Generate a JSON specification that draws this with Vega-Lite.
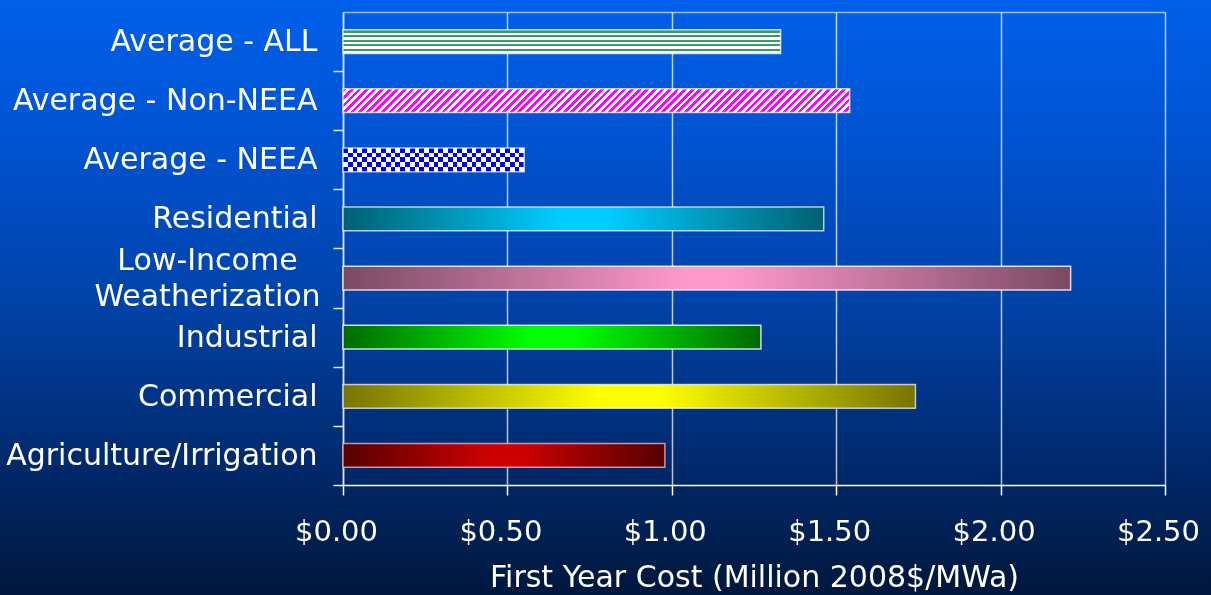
{
"$schema":"https://vega.github.io/schema/vega-lite/v6.json",
"width":1211,"height":595,"autosize":{"type":"none"},"padding":0,
"background":"#00173d",
"config":{
 "view":{"stroke":null,"fill":{"gradient":"linear","x1":0,"y1":0,"x2":0,"y2":1,"stops":[{"offset":0,"color":"#0060ea"},{"offset":0.25,"color":"#0052cf"},{"offset":0.5,"color":"#0043aa"},{"offset":0.75,"color":"#002c72"},{"offset":1,"color":"#00173d"}]}},
 "font":"DejaVu Sans"
},
"data":{"values":[
 {"category":"Average - ALL","cost":1.331},
 {"category":"Average - Non-NEEA","cost":1.541},
 {"category":"Average - NEEA","cost":0.551},
 {"category":"Residential","cost":1.462},
 {"category":"Low-Income Weatherization","cost":2.213},
 {"category":"Industrial","cost":1.271},
 {"category":"Commercial","cost":1.741},
 {"category":"Agriculture/Irrigation","cost":0.979}
]},
"encoding":{
 "y":{"field":"category","type":"nominal",
  "sort":["Average - ALL","Average - Non-NEEA","Average - NEEA","Residential","Low-Income Weatherization","Industrial","Commercial","Agriculture/Irrigation"],
  "scale":{"range":[12,485],"paddingInner":0.6,"paddingOuter":0.3},
  "axis":{"orient":"left","offset":-343,"title":null,"domainColor":"#e0e8f8","domainWidth":1.5,"tickColor":"#e0e8f8","tickWidth":1.5,"tickSize":10,"tickBand":"center","tickOffset":29.5625,
   "labelOffset":{"condition":{"test":"datum.value === 'Low-Income Weatherization'","value":-47},"value":-29.5625},
   "labelAlign":{"condition":{"test":"datum.value === 'Low-Income Weatherization'","value":"center"},"value":"right"},
   "labelPadding":{"condition":{"test":"datum.value === 'Low-Income Weatherization'","value":126},"value":16},
   "labelColor":"#ffffff","labelFont":"DejaVu Sans","labelFontSize":30,"labelLimit":500,"labelLineHeight":36,
   "labelExpr":"datum.value === 'Low-Income Weatherization' ? ['Low-Income', 'Weatherization'] : datum.value"}},
 "x":{"field":"cost","type":"quantitative","scale":{"domain":[0,2.5],"range":[343,1165]},"axis":null}
},
"resolve":{"axis":{"x":"independent"}},
"layer":[
 {"transform":[{"filter":"datum.category === 'Average - ALL'"}],
  "mark":{"type":"bar","stroke":"#ffffff","strokeOpacity":0.7,"strokeWidth":1.5,
   "fill":{"gradient":"linear","x1":0,"y1":0,"x2":0,"y2":1,"stops":[{"offset":0,"color":"#fff"},{"offset":0.03,"color":"#fff"},{"offset":0.03,"color":"#3a9a6a"},{"offset":0.12,"color":"#3a9a6a"},{"offset":0.12,"color":"#fff"},{"offset":0.22,"color":"#fff"},{"offset":0.22,"color":"#3a9a6a"},{"offset":0.31,"color":"#3a9a6a"},{"offset":0.31,"color":"#fff"},{"offset":0.415,"color":"#fff"},{"offset":0.415,"color":"#3a9a6a"},{"offset":0.505,"color":"#3a9a6a"},{"offset":0.505,"color":"#fff"},{"offset":0.61,"color":"#fff"},{"offset":0.61,"color":"#3a9a6a"},{"offset":0.7,"color":"#3a9a6a"},{"offset":0.7,"color":"#fff"},{"offset":0.805,"color":"#fff"},{"offset":0.805,"color":"#3a9a6a"},{"offset":0.895,"color":"#3a9a6a"},{"offset":0.895,"color":"#fff"},{"offset":1,"color":"#fff"}]}},
  "encoding":{"x":{"field":"cost","type":"quantitative","scale":{"domain":[0,2.5],"range":[343,1165]},
   "axis":{"orient":"bottom","offset":-110,"grid":false,"domainColor":"#ffffff","domainWidth":1.5,"tickColor":"#ffffff","tickWidth":1.5,"tickSize":10,"labelColor":"#ffffff","labelFont":"DejaVu Sans","labelFontSize":29,"labelPadding":22,"labelFlush":false,"labelOverlap":false,"labelOffset":-7,"format":"$.2f","values":[0,0.5,1,1.5,2,2.5],"title":"First Year Cost (Million 2008$/MWa)","titleColor":"#ffffff","titleFont":"DejaVu Sans","titleFontSize":30,"titleFontWeight":"normal","titlePadding":16}}}},
 {"transform":[{"filter":"datum.category === 'Average - Non-NEEA'"}],
  "mark":{"type":"bar","stroke":"#ffffff","strokeOpacity":0.7,"strokeWidth":1.5,
   "fill":{"gradient":"linear","x1":0,"y1":0,"x2":1.0444,"y2":0.0487,"stops":[
{"offset":0,"color":"#f0f"},
{"offset":0.00714,"color":"#f0f"},{"offset":0.00714,"color":"#fff"},{"offset":0.01429,"color":"#fff"},{"offset":0.01429,"color":"#f0f"},
{"offset":0.02143,"color":"#f0f"},{"offset":0.02143,"color":"#fff"},{"offset":0.02857,"color":"#fff"},{"offset":0.02857,"color":"#f0f"},
{"offset":0.03571,"color":"#f0f"},{"offset":0.03571,"color":"#fff"},{"offset":0.04286,"color":"#fff"},{"offset":0.04286,"color":"#f0f"},
{"offset":0.05,"color":"#f0f"},{"offset":0.05,"color":"#fff"},{"offset":0.05714,"color":"#fff"},{"offset":0.05714,"color":"#f0f"},
{"offset":0.06429,"color":"#f0f"},{"offset":0.06429,"color":"#fff"},{"offset":0.07143,"color":"#fff"},{"offset":0.07143,"color":"#f0f"},
{"offset":0.07857,"color":"#f0f"},{"offset":0.07857,"color":"#fff"},{"offset":0.08571,"color":"#fff"},{"offset":0.08571,"color":"#f0f"},
{"offset":0.09286,"color":"#f0f"},{"offset":0.09286,"color":"#fff"},{"offset":0.1,"color":"#fff"},{"offset":0.1,"color":"#f0f"},
{"offset":0.10714,"color":"#f0f"},{"offset":0.10714,"color":"#fff"},{"offset":0.11429,"color":"#fff"},{"offset":0.11429,"color":"#f0f"},
{"offset":0.12143,"color":"#f0f"},{"offset":0.12143,"color":"#fff"},{"offset":0.12857,"color":"#fff"},{"offset":0.12857,"color":"#f0f"},
{"offset":0.13571,"color":"#f0f"},{"offset":0.13571,"color":"#fff"},{"offset":0.14286,"color":"#fff"},{"offset":0.14286,"color":"#f0f"},
{"offset":0.15,"color":"#f0f"},{"offset":0.15,"color":"#fff"},{"offset":0.15714,"color":"#fff"},{"offset":0.15714,"color":"#f0f"},
{"offset":0.16429,"color":"#f0f"},{"offset":0.16429,"color":"#fff"},{"offset":0.17143,"color":"#fff"},{"offset":0.17143,"color":"#f0f"},
{"offset":0.17857,"color":"#f0f"},{"offset":0.17857,"color":"#fff"},{"offset":0.18571,"color":"#fff"},{"offset":0.18571,"color":"#f0f"},
{"offset":0.19286,"color":"#f0f"},{"offset":0.19286,"color":"#fff"},{"offset":0.2,"color":"#fff"},{"offset":0.2,"color":"#f0f"},
{"offset":0.20714,"color":"#f0f"},{"offset":0.20714,"color":"#fff"},{"offset":0.21429,"color":"#fff"},{"offset":0.21429,"color":"#f0f"},
{"offset":0.22143,"color":"#f0f"},{"offset":0.22143,"color":"#fff"},{"offset":0.22857,"color":"#fff"},{"offset":0.22857,"color":"#f0f"},
{"offset":0.23571,"color":"#f0f"},{"offset":0.23571,"color":"#fff"},{"offset":0.24286,"color":"#fff"},{"offset":0.24286,"color":"#f0f"},
{"offset":0.25,"color":"#f0f"},{"offset":0.25,"color":"#fff"},{"offset":0.25714,"color":"#fff"},{"offset":0.25714,"color":"#f0f"},
{"offset":0.26429,"color":"#f0f"},{"offset":0.26429,"color":"#fff"},{"offset":0.27143,"color":"#fff"},{"offset":0.27143,"color":"#f0f"},
{"offset":0.27857,"color":"#f0f"},{"offset":0.27857,"color":"#fff"},{"offset":0.28571,"color":"#fff"},{"offset":0.28571,"color":"#f0f"},
{"offset":0.29286,"color":"#f0f"},{"offset":0.29286,"color":"#fff"},{"offset":0.3,"color":"#fff"},{"offset":0.3,"color":"#f0f"},
{"offset":0.30714,"color":"#f0f"},{"offset":0.30714,"color":"#fff"},{"offset":0.31429,"color":"#fff"},{"offset":0.31429,"color":"#f0f"},
{"offset":0.32143,"color":"#f0f"},{"offset":0.32143,"color":"#fff"},{"offset":0.32857,"color":"#fff"},{"offset":0.32857,"color":"#f0f"},
{"offset":0.33571,"color":"#f0f"},{"offset":0.33571,"color":"#fff"},{"offset":0.34286,"color":"#fff"},{"offset":0.34286,"color":"#f0f"},
{"offset":0.35,"color":"#f0f"},{"offset":0.35,"color":"#fff"},{"offset":0.35714,"color":"#fff"},{"offset":0.35714,"color":"#f0f"},
{"offset":0.36429,"color":"#f0f"},{"offset":0.36429,"color":"#fff"},{"offset":0.37143,"color":"#fff"},{"offset":0.37143,"color":"#f0f"},
{"offset":0.37857,"color":"#f0f"},{"offset":0.37857,"color":"#fff"},{"offset":0.38571,"color":"#fff"},{"offset":0.38571,"color":"#f0f"},
{"offset":0.39286,"color":"#f0f"},{"offset":0.39286,"color":"#fff"},{"offset":0.4,"color":"#fff"},{"offset":0.4,"color":"#f0f"},
{"offset":0.40714,"color":"#f0f"},{"offset":0.40714,"color":"#fff"},{"offset":0.41429,"color":"#fff"},{"offset":0.41429,"color":"#f0f"},
{"offset":0.42143,"color":"#f0f"},{"offset":0.42143,"color":"#fff"},{"offset":0.42857,"color":"#fff"},{"offset":0.42857,"color":"#f0f"},
{"offset":0.43571,"color":"#f0f"},{"offset":0.43571,"color":"#fff"},{"offset":0.44286,"color":"#fff"},{"offset":0.44286,"color":"#f0f"},
{"offset":0.45,"color":"#f0f"},{"offset":0.45,"color":"#fff"},{"offset":0.45714,"color":"#fff"},{"offset":0.45714,"color":"#f0f"},
{"offset":0.46429,"color":"#f0f"},{"offset":0.46429,"color":"#fff"},{"offset":0.47143,"color":"#fff"},{"offset":0.47143,"color":"#f0f"},
{"offset":0.47857,"color":"#f0f"},{"offset":0.47857,"color":"#fff"},{"offset":0.48571,"color":"#fff"},{"offset":0.48571,"color":"#f0f"},
{"offset":0.49286,"color":"#f0f"},{"offset":0.49286,"color":"#fff"},{"offset":0.5,"color":"#fff"},{"offset":0.5,"color":"#f0f"},
{"offset":0.50714,"color":"#f0f"},{"offset":0.50714,"color":"#fff"},{"offset":0.51429,"color":"#fff"},{"offset":0.51429,"color":"#f0f"},
{"offset":0.52143,"color":"#f0f"},{"offset":0.52143,"color":"#fff"},{"offset":0.52857,"color":"#fff"},{"offset":0.52857,"color":"#f0f"},
{"offset":0.53571,"color":"#f0f"},{"offset":0.53571,"color":"#fff"},{"offset":0.54286,"color":"#fff"},{"offset":0.54286,"color":"#f0f"},
{"offset":0.55,"color":"#f0f"},{"offset":0.55,"color":"#fff"},{"offset":0.55714,"color":"#fff"},{"offset":0.55714,"color":"#f0f"},
{"offset":0.56429,"color":"#f0f"},{"offset":0.56429,"color":"#fff"},{"offset":0.57143,"color":"#fff"},{"offset":0.57143,"color":"#f0f"},
{"offset":0.57857,"color":"#f0f"},{"offset":0.57857,"color":"#fff"},{"offset":0.58571,"color":"#fff"},{"offset":0.58571,"color":"#f0f"},
{"offset":0.59286,"color":"#f0f"},{"offset":0.59286,"color":"#fff"},{"offset":0.6,"color":"#fff"},{"offset":0.6,"color":"#f0f"},
{"offset":0.60714,"color":"#f0f"},{"offset":0.60714,"color":"#fff"},{"offset":0.61429,"color":"#fff"},{"offset":0.61429,"color":"#f0f"},
{"offset":0.62143,"color":"#f0f"},{"offset":0.62143,"color":"#fff"},{"offset":0.62857,"color":"#fff"},{"offset":0.62857,"color":"#f0f"},
{"offset":0.63571,"color":"#f0f"},{"offset":0.63571,"color":"#fff"},{"offset":0.64286,"color":"#fff"},{"offset":0.64286,"color":"#f0f"},
{"offset":0.65,"color":"#f0f"},{"offset":0.65,"color":"#fff"},{"offset":0.65714,"color":"#fff"},{"offset":0.65714,"color":"#f0f"},
{"offset":0.66429,"color":"#f0f"},{"offset":0.66429,"color":"#fff"},{"offset":0.67143,"color":"#fff"},{"offset":0.67143,"color":"#f0f"},
{"offset":0.67857,"color":"#f0f"},{"offset":0.67857,"color":"#fff"},{"offset":0.68571,"color":"#fff"},{"offset":0.68571,"color":"#f0f"},
{"offset":0.69286,"color":"#f0f"},{"offset":0.69286,"color":"#fff"},{"offset":0.7,"color":"#fff"},{"offset":0.7,"color":"#f0f"},
{"offset":0.70714,"color":"#f0f"},{"offset":0.70714,"color":"#fff"},{"offset":0.71429,"color":"#fff"},{"offset":0.71429,"color":"#f0f"},
{"offset":0.72143,"color":"#f0f"},{"offset":0.72143,"color":"#fff"},{"offset":0.72857,"color":"#fff"},{"offset":0.72857,"color":"#f0f"},
{"offset":0.73571,"color":"#f0f"},{"offset":0.73571,"color":"#fff"},{"offset":0.74286,"color":"#fff"},{"offset":0.74286,"color":"#f0f"},
{"offset":0.75,"color":"#f0f"},{"offset":0.75,"color":"#fff"},{"offset":0.75714,"color":"#fff"},{"offset":0.75714,"color":"#f0f"},
{"offset":0.76429,"color":"#f0f"},{"offset":0.76429,"color":"#fff"},{"offset":0.77143,"color":"#fff"},{"offset":0.77143,"color":"#f0f"},
{"offset":0.77857,"color":"#f0f"},{"offset":0.77857,"color":"#fff"},{"offset":0.78571,"color":"#fff"},{"offset":0.78571,"color":"#f0f"},
{"offset":0.79286,"color":"#f0f"},{"offset":0.79286,"color":"#fff"},{"offset":0.8,"color":"#fff"},{"offset":0.8,"color":"#f0f"},
{"offset":0.80714,"color":"#f0f"},{"offset":0.80714,"color":"#fff"},{"offset":0.81429,"color":"#fff"},{"offset":0.81429,"color":"#f0f"},
{"offset":0.82143,"color":"#f0f"},{"offset":0.82143,"color":"#fff"},{"offset":0.82857,"color":"#fff"},{"offset":0.82857,"color":"#f0f"},
{"offset":0.83571,"color":"#f0f"},{"offset":0.83571,"color":"#fff"},{"offset":0.84286,"color":"#fff"},{"offset":0.84286,"color":"#f0f"},
{"offset":0.85,"color":"#f0f"},{"offset":0.85,"color":"#fff"},{"offset":0.85714,"color":"#fff"},{"offset":0.85714,"color":"#f0f"},
{"offset":0.86429,"color":"#f0f"},{"offset":0.86429,"color":"#fff"},{"offset":0.87143,"color":"#fff"},{"offset":0.87143,"color":"#f0f"},
{"offset":0.87857,"color":"#f0f"},{"offset":0.87857,"color":"#fff"},{"offset":0.88571,"color":"#fff"},{"offset":0.88571,"color":"#f0f"},
{"offset":0.89286,"color":"#f0f"},{"offset":0.89286,"color":"#fff"},{"offset":0.9,"color":"#fff"},{"offset":0.9,"color":"#f0f"},
{"offset":0.90714,"color":"#f0f"},{"offset":0.90714,"color":"#fff"},{"offset":0.91429,"color":"#fff"},{"offset":0.91429,"color":"#f0f"},
{"offset":0.92143,"color":"#f0f"},{"offset":0.92143,"color":"#fff"},{"offset":0.92857,"color":"#fff"},{"offset":0.92857,"color":"#f0f"},
{"offset":0.93571,"color":"#f0f"},{"offset":0.93571,"color":"#fff"},{"offset":0.94286,"color":"#fff"},{"offset":0.94286,"color":"#f0f"},
{"offset":0.95,"color":"#f0f"},{"offset":0.95,"color":"#fff"},{"offset":0.95714,"color":"#fff"},{"offset":0.95714,"color":"#f0f"},
{"offset":0.96429,"color":"#f0f"},{"offset":0.96429,"color":"#fff"},{"offset":0.97143,"color":"#fff"},{"offset":0.97143,"color":"#f0f"},
{"offset":0.97857,"color":"#f0f"},{"offset":0.97857,"color":"#fff"},{"offset":0.98571,"color":"#fff"},{"offset":0.98571,"color":"#f0f"},
{"offset":0.99286,"color":"#f0f"},{"offset":0.99286,"color":"#fff"},{"offset":1,"color":"#fff"}]}},
  "encoding":{"x":{"field":"cost","type":"quantitative","scale":{"domain":[0,2.5],"range":[343,1165]},
   "axis":{"orient":"top","offset":-12,"grid":true,"gridColor":"#ffffff","gridOpacity":0.72,"gridWidth":1.5,"domain":true,"domainColor":"#ffffff","domainOpacity":0.6,"domainWidth":1.5,"ticks":false,"labels":false,"title":null,"values":[0,0.5,1,1.5,2,2.5]}}}},
 {"transform":[{"filter":"datum.category === 'Average - NEEA'"}],
  "mark":{"type":"bar",
   "fill":{"gradient":"linear","x1":0,"y1":0,"x2":1,"y2":0,"stops":[
{"offset":0,"color":"#000"},
{"offset":0.02632,"color":"#000"},{"offset":0.02632,"color":"#fff"},{"offset":0.05263,"color":"#fff"},{"offset":0.05263,"color":"#000"},
{"offset":0.07895,"color":"#000"},{"offset":0.07895,"color":"#fff"},{"offset":0.10526,"color":"#fff"},{"offset":0.10526,"color":"#000"},
{"offset":0.13158,"color":"#000"},{"offset":0.13158,"color":"#fff"},{"offset":0.15789,"color":"#fff"},{"offset":0.15789,"color":"#000"},
{"offset":0.18421,"color":"#000"},{"offset":0.18421,"color":"#fff"},{"offset":0.21053,"color":"#fff"},{"offset":0.21053,"color":"#000"},
{"offset":0.23684,"color":"#000"},{"offset":0.23684,"color":"#fff"},{"offset":0.26316,"color":"#fff"},{"offset":0.26316,"color":"#000"},
{"offset":0.28947,"color":"#000"},{"offset":0.28947,"color":"#fff"},{"offset":0.31579,"color":"#fff"},{"offset":0.31579,"color":"#000"},
{"offset":0.34211,"color":"#000"},{"offset":0.34211,"color":"#fff"},{"offset":0.36842,"color":"#fff"},{"offset":0.36842,"color":"#000"},
{"offset":0.39474,"color":"#000"},{"offset":0.39474,"color":"#fff"},{"offset":0.42105,"color":"#fff"},{"offset":0.42105,"color":"#000"},
{"offset":0.44737,"color":"#000"},{"offset":0.44737,"color":"#fff"},{"offset":0.47368,"color":"#fff"},{"offset":0.47368,"color":"#000"},
{"offset":0.5,"color":"#000"},{"offset":0.5,"color":"#fff"},{"offset":0.52632,"color":"#fff"},{"offset":0.52632,"color":"#000"},
{"offset":0.55263,"color":"#000"},{"offset":0.55263,"color":"#fff"},{"offset":0.57895,"color":"#fff"},{"offset":0.57895,"color":"#000"},
{"offset":0.60526,"color":"#000"},{"offset":0.60526,"color":"#fff"},{"offset":0.63158,"color":"#fff"},{"offset":0.63158,"color":"#000"},
{"offset":0.65789,"color":"#000"},{"offset":0.65789,"color":"#fff"},{"offset":0.68421,"color":"#fff"},{"offset":0.68421,"color":"#000"},
{"offset":0.71053,"color":"#000"},{"offset":0.71053,"color":"#fff"},{"offset":0.73684,"color":"#fff"},{"offset":0.73684,"color":"#000"},
{"offset":0.76316,"color":"#000"},{"offset":0.76316,"color":"#fff"},{"offset":0.78947,"color":"#fff"},{"offset":0.78947,"color":"#000"},
{"offset":0.81579,"color":"#000"},{"offset":0.81579,"color":"#fff"},{"offset":0.84211,"color":"#fff"},{"offset":0.84211,"color":"#000"},
{"offset":0.86842,"color":"#000"},{"offset":0.86842,"color":"#fff"},{"offset":0.89474,"color":"#fff"},{"offset":0.89474,"color":"#000"},
{"offset":0.92105,"color":"#000"},{"offset":0.92105,"color":"#fff"},{"offset":0.94737,"color":"#fff"},{"offset":0.94737,"color":"#000"},
{"offset":0.97368,"color":"#000"},{"offset":0.97368,"color":"#fff"},{"offset":1,"color":"#fff"}]}}},
 {"transform":[{"filter":"datum.category === 'Average - NEEA'"}],
  "mark":{"type":"bar","blend":"difference",
   "fill":{"gradient":"linear","x1":0,"y1":0,"x2":0,"y2":1,"stops":[{"offset":0,"color":"#000"},{"offset":0.2,"color":"#000"},{"offset":0.2,"color":"#fff"},{"offset":0.4,"color":"#fff"},{"offset":0.4,"color":"#000"},{"offset":0.6,"color":"#000"},{"offset":0.6,"color":"#fff"},{"offset":0.8,"color":"#fff"},{"offset":0.8,"color":"#000"},{"offset":1,"color":"#000"}]}}},
 {"transform":[{"filter":"datum.category === 'Average - NEEA'"}],
  "mark":{"type":"bar","blend":"lighten","fill":"#0000ff"}},
 {"transform":[{"filter":"datum.category === 'Average - NEEA'"}],
  "mark":{"type":"bar","fillOpacity":0,"stroke":"#ffffff","strokeOpacity":0.7,"strokeWidth":1.5}},
 {"transform":[{"filter":"datum.category === 'Residential'"}],
  "mark":{"type":"bar","stroke":"#ffffff","strokeOpacity":0.7,"strokeWidth":1.5,
   "fill":{"gradient":"linear","x1":0,"y1":0,"x2":1,"y2":0,"stops":[{"offset":0,"color":"#006070"},{"offset":0.45,"color":"#00ccff"},{"offset":0.55,"color":"#00ccff"},{"offset":1,"color":"#006070"}]}}},
 {"transform":[{"filter":"datum.category === 'Low-Income Weatherization'"}],
  "mark":{"type":"bar","stroke":"#ffffff","strokeOpacity":0.8,"strokeWidth":1.5,
   "fill":{"gradient":"linear","x1":0,"y1":0,"x2":1,"y2":0,"stops":[{"offset":0,"color":"#7a4a62"},{"offset":0.47,"color":"#ff99cc"},{"offset":0.53,"color":"#ff99cc"},{"offset":1,"color":"#7a4a62"}]}}},
 {"transform":[{"filter":"datum.category === 'Industrial'"}],
  "mark":{"type":"bar","stroke":"#ffffff","strokeOpacity":0.8,"strokeWidth":1.5,
   "fill":{"gradient":"linear","x1":0,"y1":0,"x2":1,"y2":0,"stops":[{"offset":0,"color":"#006a00"},{"offset":0.45,"color":"#00ff00"},{"offset":0.55,"color":"#00ff00"},{"offset":1,"color":"#006a00"}]}}},
 {"transform":[{"filter":"datum.category === 'Commercial'"}],
  "mark":{"type":"bar","stroke":"#ffffff","strokeOpacity":0.7,"strokeWidth":1.5,
   "fill":{"gradient":"linear","x1":0,"y1":0,"x2":1,"y2":0,"stops":[{"offset":0,"color":"#767400"},{"offset":0.45,"color":"#ffff00"},{"offset":0.55,"color":"#ffff00"},{"offset":1,"color":"#767400"}]}}},
 {"transform":[{"filter":"datum.category === 'Agriculture/Irrigation'"}],
  "mark":{"type":"bar","stroke":"#ffb0b0","strokeOpacity":0.8,"strokeWidth":1.5,
   "fill":{"gradient":"linear","x1":0,"y1":0,"x2":1,"y2":0,"stops":[{"offset":0,"color":"#550000"},{"offset":0.45,"color":"#cc0000"},{"offset":0.55,"color":"#cc0000"},{"offset":1,"color":"#550000"}]}}}
]
}
